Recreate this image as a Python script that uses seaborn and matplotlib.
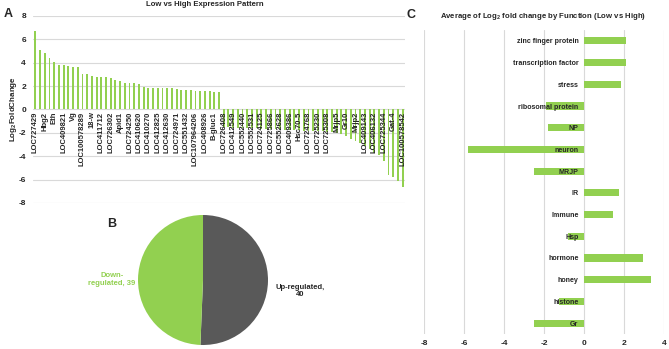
import matplotlib
matplotlib.use("Agg")
import matplotlib.pyplot as plt
import numpy as np
import pandas as pd
import seaborn as sns

# ---------------- data ----------------
# Panel A: log2 fold change per gene (79 genes, every other one labelled)
gene_labels = ["LOC727429", "Hbg2", "Eth", "LOC409821", "Vg", "LOC100578289", "18-w",
               "LOC411712", "LOC726302", "Apid1", "LOC724250", "LOC410620", "LOC410270",
               "LOC412825", "LOC412630", "LOC724971", "LOC551432", "LOC107964206",
               "LOC408926", "B-gluc1", "LOC726408", "LOC412549", "LOC552440", "LOC552531",
               "LOC724125", "LOC725866", "LOC552628", "LOC409386", "Hsc70-5", "LOC724768",
               "LOC725230", "LOC725308", "Mrjp5", "Gr10", "Mrjp2", "LOC409143", "LOC406132",
               "LOC725344", "Gat-4", "LOC100578542"]
fold_up = [6.7, 5.1, 4.85, 4.4, 4.1, 3.8, 3.8, 3.7, 3.6, 3.6,
           3.05, 3.05, 2.9, 2.8, 2.8, 2.8, 2.7, 2.55, 2.4, 2.3,
           2.3, 2.25, 2.2, 1.9, 1.85, 1.85, 1.85, 1.8, 1.8, 1.8,
           1.75, 1.7, 1.7, 1.65, 1.6, 1.6, 1.55, 1.55, 1.5, 1.5]
fold_down = [-1.5, -1.52, -1.55, -1.55, -1.58, -1.6, -1.6, -1.62, -1.65, -1.65,
             -1.68, -1.7, -1.7, -1.72, -1.75, -1.75, -1.78, -1.8, -1.8, -1.82,
             -1.85, -1.88, -1.9, -1.95, -2.0, -2.1, -2.3, -2.5, -2.7, -2.9,
             -3.1, -3.4, -3.7, -3.9, -4.4, -5.6, -5.8, -6.1, -6.6]
a_yticks = [-8, -6, -4, -2, 0, 2, 4, 6, 8]

# Panel B: counts
pie_labels = ["Up-regulated", "Down-regulated"]
pie_counts = [40, 39]

# Panel C: average log2 fold change by function
functions = ["zinc finger protein", "transcription factor", "stress", "ribosomal protein",
             "NP", "neuron", "MRJP", "IR", "Immune", "Hsp", "hormone", "honey",
             "histone", "Gr"]
avg_fc = [2.1, 2.1, 1.85, -1.9, -1.8, -5.8, -2.5, 1.75, 1.45, -0.8, 2.95, 3.35, -1.25, -2.5]
c_xticks = [-8, -6, -4, -2, 0, 2, 4]

# ---------------- style ----------------
sns.set_theme(style="white")
plt.rcParams["font.family"] = ["Liberation Sans", "DejaVu Sans"]
plt.rcParams["mathtext.fontset"] = "custom"
plt.rcParams["mathtext.rm"] = "Liberation Sans:bold"
plt.rcParams["mathtext.bf"] = "Liberation Sans:bold"
plt.rcParams["mathtext.it"] = "Liberation Sans:bold"

GREEN = "#92D050"
GRAY = "#595959"
GRID = "#D9D9D9"
TXT = "#262626"

W, H = 669, 349
fig = plt.figure(figsize=(W / 100, H / 100), dpi=100)

# ---------------- Panel A ----------------
fold_change = fold_up + fold_down
dfA = pd.DataFrame({"gene": [str(i) for i in range(len(fold_change))], "fc": fold_change})
axA = fig.add_axes([33 / W, 1 - 203 / H, 372 / W, 187 / H])
sns.barplot(data=dfA, x="gene", y="fc", color=GREEN, saturation=1, width=0.4,
            linewidth=0, edgecolor="none", ax=axA, zorder=2)
axA.set_axisbelow(False)
axA.grid(False)
axA.spines["bottom"].set_position(("data", 0))
for s in axA.spines.values():
    s.set_visible(False)
axA.set_xlim(-0.5, len(fold_change) - 0.5)
axA.set_ylim(-8, 8)
axA.set_yticks(a_yticks)
axA.set_yticklabels([str(t) for t in a_yticks])
for t in a_yticks:
    axA.axhline(t, color=GRID, lw=0.8, zorder=0)
axA.set_xticks(range(0, len(fold_change), 2))
axA.set_xticklabels(gene_labels)
axA.tick_params(axis="x", length=0, pad=1.5, labelsize=5.5, labelrotation=90,
                labelcolor=TXT)
axA.tick_params(axis="y", length=0, pad=5, labelsize=6, labelcolor=TXT)
for lab in axA.get_xticklabels() + axA.get_yticklabels():
    lab.set_fontweight("bold")
axA.set_xlabel("")
axA.set_ylabel("Log$_2$FoldChange", fontsize=5.8, fontweight="bold", color=TXT, labelpad=0)

fig.text(205 / W, 1 - 5 / H, "Low vs High Expression Pattern", ha="center", va="center",
         fontsize=5.6, fontweight="bold", color=TXT)
fig.text(8 / W, 1 - 14 / H, "A", ha="center", va="center", fontsize=9, fontweight="bold",
         color=TXT)

# ---------------- Panel B ----------------
R = 65
axB = fig.add_axes([(203 - R) / W, (349 - 345) / H, 2 * R / W, 2 * R / H])
axB.pie(pie_counts, colors=[GRAY, GREEN], startangle=90, counterclock=False,
        wedgeprops=dict(linewidth=0))
axB.set_xlim(-1, 1)
axB.set_ylim(-1, 1)
axB.text(1.49, -0.17, f"{pie_labels[0]},\n{pie_counts[0]}", ha="center", va="center",
         fontsize=5.5, fontweight="bold", color=TXT, clip_on=False, linespacing=1.1)
axB.text(-1.40, 0.01, pie_labels[1].replace("-", "-\n") + f", {pie_counts[1]}",
         ha="center", va="center", fontsize=5.5, fontweight="bold", color=GREEN,
         clip_on=False, linespacing=1.1)
fig.text(112 / W, 1 - 224 / H, "B", ha="center", va="center", fontsize=9,
         fontweight="bold", color=TXT)

# ---------------- Panel C ----------------
axC = fig.add_axes([424 / W, 15 / H, 240 / W, 304 / H])
sns.barplot(x=avg_fc, y=functions, orient="h", color=GREEN, saturation=1, width=0.33,
            linewidth=0, edgecolor="none", ax=axC, zorder=2)
axC.set_axisbelow(False)
axC.grid(False)
axC.spines["left"].set_position(("data", 0))
for s in axC.spines.values():
    s.set_visible(False)
axC.set_xlim(-8, 4)
axC.set_xticks(c_xticks)
axC.set_xticklabels([str(t) for t in c_xticks])
for t in c_xticks:
    axC.axvline(t, color=GRID, lw=0.8, zorder=0)
axC.tick_params(axis="y", length=0, pad=4, labelsize=5.1, labelcolor=TXT)
axC.tick_params(axis="x", length=0, pad=4, labelsize=6, labelcolor=TXT)
for lab in axC.get_xticklabels() + axC.get_yticklabels():
    lab.set_fontweight("bold")
    lab.set_zorder(5)
axC.set_xlabel("")
axC.set_ylabel("")

fig.text(543 / W, 1 - 16 / H, "Average of Log$_2$ fold change by Function (Low vs High)",
         ha="center", va="center", fontsize=5.6, fontweight="bold", color=TXT)
fig.text(411 / W, 1 - 15 / H, "C", ha="center", va="center", fontsize=9,
         fontweight="bold", color=TXT)

fig.savefig("out.png", dpi=100)
